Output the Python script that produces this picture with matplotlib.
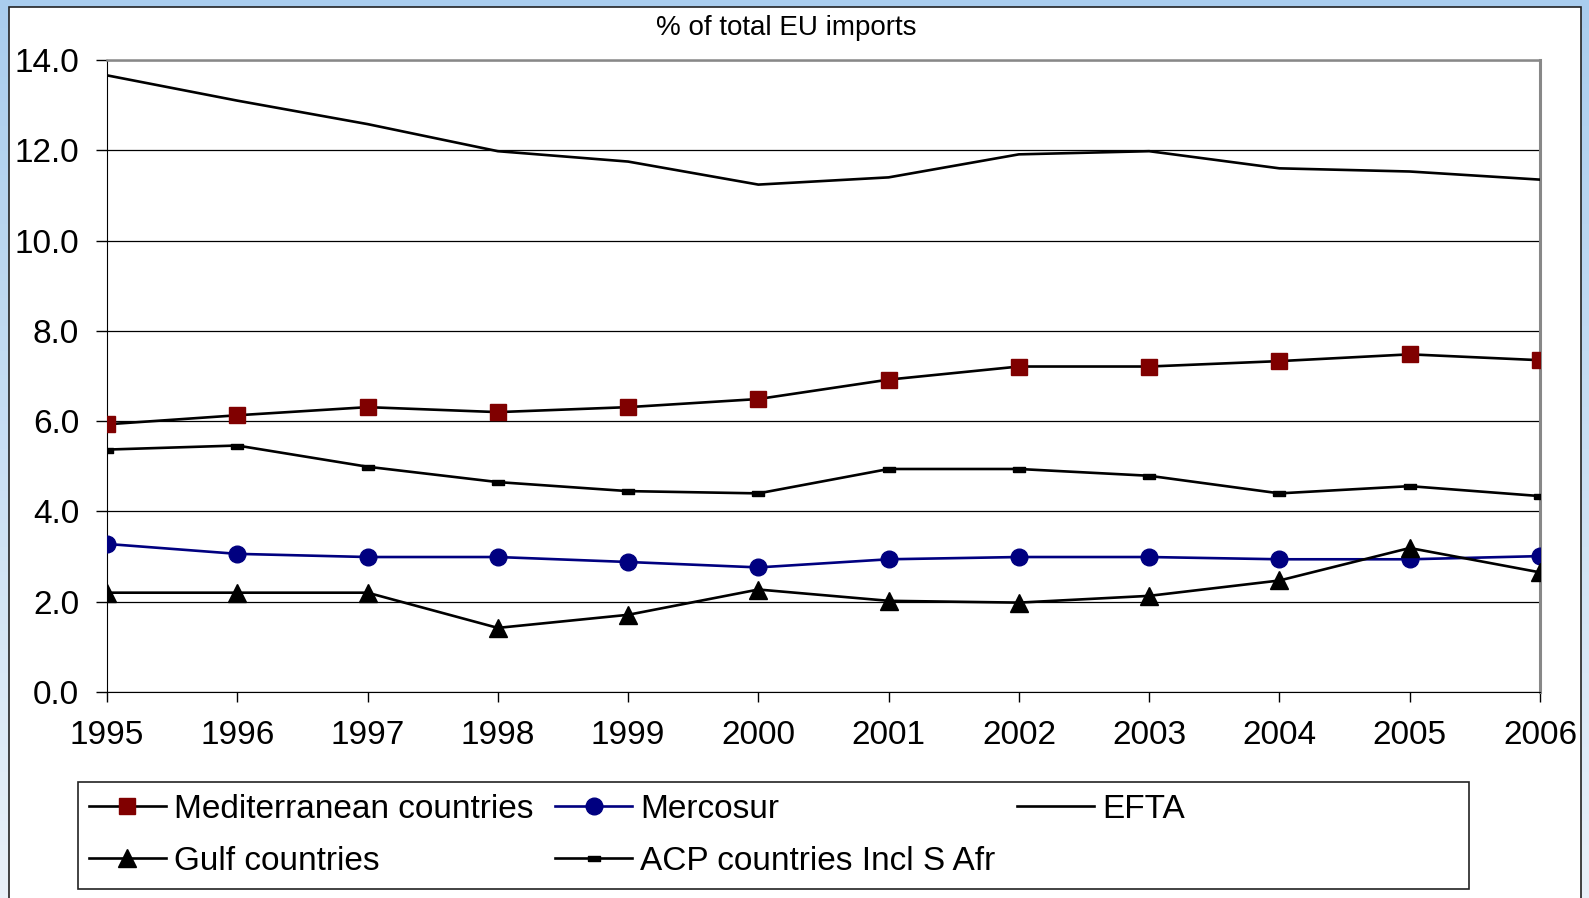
import matplotlib.pyplot as plt
import matplotlib.patches as mpatches
import numpy as np

plt.rcParams['font.family'] = ['Liberation Sans', 'DejaVu Sans']

years = [1995, 1996, 1997, 1998, 1999, 2000, 2001, 2002, 2003, 2004, 2005, 2006]
mediterranean = [5.93, 6.13, 6.31, 6.20, 6.31, 6.49, 6.92, 7.21, 7.21, 7.33, 7.48, 7.35]
mercosur = [3.28, 3.06, 2.99, 2.99, 2.88, 2.76, 2.94, 2.99, 2.99, 2.94, 2.94, 3.01]
efta = [13.66, 13.10, 12.58, 11.98, 11.75, 11.24, 11.40, 11.91, 11.98, 11.60, 11.53, 11.35]
gulf = [2.20, 2.20, 2.20, 1.42, 1.71, 2.27, 2.02, 1.98, 2.13, 2.47, 3.19, 2.65]
acp = [5.37, 5.46, 4.99, 4.65, 4.45, 4.40, 4.94, 4.94, 4.79, 4.40, 4.56, 4.34]

W, H = 1589, 898
fig = plt.figure(figsize=(W / 100, H / 100), dpi=100)

# light blue gradient frame behind a white chart panel
bg = fig.add_axes([0, 0, 1, 1], zorder=-10)
grad = np.linspace(0, 1, 256).reshape(-1, 1)
bg.imshow(grad, aspect='auto', extent=[0, 1, 0, 1],
          cmap=plt.matplotlib.colors.LinearSegmentedColormap.from_list('bgc', ['#a9cdee', '#e9f1f9']))
bg.add_patch(mpatches.Rectangle((9 / W, -0.01), (1581 - 9) / W, 1.01 - 7 / H,
                                facecolor='white', edgecolor='#222222', linewidth=1.2))
# legend frame (wider than the legend entries, as in the original)
bg.add_patch(mpatches.Rectangle((78 / W, 1 - 889 / H), (1469 - 78) / W, (889 - 782) / H,
                                facecolor='white', edgecolor='#222222', linewidth=1.2))
bg.set_xlim(0, 1)
bg.set_ylim(0, 1)
bg.axis('off')

ax = fig.add_axes([107 / W, 1 - 692 / H, (1540 - 107) / W, (692 - 60) / H])
ax.set_facecolor('none')

lw = 1.9
h_med, = ax.plot(years, mediterranean, color='black', lw=lw, marker='s', ms=12,
                 mfc='#800000', mec='#800000', label='Mediterranean countries', zorder=3)
h_mer, = ax.plot(years, mercosur, color='#000080', lw=lw, marker='o', ms=12,
                 mfc='#000080', mec='#000080', label='Mercosur', zorder=3)
h_efta, = ax.plot(years, efta, color='black', lw=lw, label='EFTA', zorder=3)
h_gulf, = ax.plot(years, gulf, color='black', lw=lw, marker='^', ms=13,
                  mfc='black', mec='black', label='Gulf countries', zorder=4)
dash = [(-1, -0.4), (1, -0.4), (1, 0.4), (-1, 0.4), (-1, -0.4)]
h_acp, = ax.plot(years, acp, color='black', lw=lw, marker=dash, ms=9,
                 mfc='black', mec='black', label='ACP countries Incl S Afr', zorder=3)

ax.set_xlim(1995, 2006)
ax.set_ylim(0, 14)
ax.set_yticks(np.arange(0, 14.1, 2))
ax.set_yticklabels(['%.1f' % v for v in np.arange(0, 14.1, 2)])
ax.set_xticks(years)
ax.set_xticklabels([str(y) for y in years])
ax.yaxis.grid(True, color='black', linewidth=0.9)
ax.set_axisbelow(True)
ax.tick_params(axis='y', labelsize=24, length=8, width=1, pad=12, direction='out')
ax.tick_params(axis='x', labelsize=24, length=7, width=1, pad=13, direction='out')
ax.spines['left'].set_color('black')
ax.spines['bottom'].set_color('black')
ax.spines['top'].set_color('#888888')
ax.spines['right'].set_color('#888888')
ax.spines['top'].set_linewidth(1.8)
ax.spines['right'].set_linewidth(2.2)

fig.text(0.495, 1 - 28 / H, '% of total EU imports', ha='center', va='center', fontsize=20)

leg = fig.legend([h_med, h_gulf, h_mer, h_acp, h_efta],
                 ['Mediterranean countries', 'Gulf countries', 'Mercosur',
                  'ACP countries Incl S Afr', 'EFTA'],
                 ncol=3, loc='upper left', bbox_to_anchor=(89 / W, 1 - 794 / H),
                 fontsize=24, frameon=False, handlelength=2.3,
                 handletextpad=0.25, columnspacing=0.65, labelspacing=0.62,
                 borderpad=0, borderaxespad=0)

fig.savefig('out.png', dpi=100)
